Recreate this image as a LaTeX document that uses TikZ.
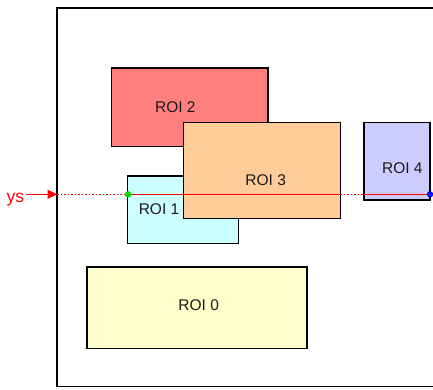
\documentclass[tikz,border=0pt]{standalone}
\usepackage{fontspec}
\setmainfont{Liberation Sans}
\usetikzlibrary{arrows.meta}
\definecolor{roiA}{HTML}{FFFFCC}
\definecolor{roiB}{HTML}{CCFFFF}
\definecolor{roiC}{HTML}{FF7F7F}
\definecolor{roiD}{HTML}{FFCC99}
\definecolor{roiE}{HTML}{CCCCFF}
\definecolor{txt}{HTML}{1A1A1A}
\tikzset{
  roibox/.style={draw=black, line width=1.4pt, inner sep=0pt, outer sep=0pt, anchor=north west},
  roitext/.style={text=txt, font=\fontsize{15.5}{17}\selectfont, inner sep=0pt},
  scanline/.style={red, line width=1.5pt},
  scandot/.style={red, line width=1.5pt, dotted},
}
\begin{document}
\begin{tikzpicture}[x=1pt,y=-1pt]
\useasboundingbox[fill=white] (0,0) rectangle (433,389);
% frame
\draw[line width=1.4pt] (445,8) -- (57,8) -- (57,386.5) -- (445,386.5);
\coordinate (fl) at (57,194.3);
% ROIs
\node[roibox, fill=roiA, minimum width=220pt, minimum height=81.7pt] (r0) at (87,267) {};
\node[roibox, fill=roiC, minimum width=156.3pt, minimum height=78.7pt] (r2) at (111.7,68) {};
\node[roibox, fill=roiB, minimum width=110.6pt, minimum height=67.7pt] (r1) at (127.7,176) {};
\node[roibox, fill=roiD, minimum width=156.6pt, minimum height=96pt] (r3) at (183.7,122.7) {};
\node[roibox, fill=roiE, minimum width=66pt, minimum height=77.3pt] (r4) at (364,122.7) {};
% labels
\node[roitext] (t0) at (198.7,305.5) {ROI 0};
\node[roitext] (t1) at (159,209) {ROI 1};
\node[roitext] (t2) at (175.3,107) {ROI 2};
\node[roitext] (t3) at (265.7,180.5) {ROI 3};
\node[roitext] (t4) at (402.3,167.8) {ROI 4};
% scan line
\coordinate (g) at (128,194.3);
\coordinate (a3) at (340.3,194.3);
\coordinate (b4) at (364,194.3);
\coordinate (b) at (430,194.3);
\draw[scandot] (fl) -- (g);
\draw[scanline] (g) -- (a3);
\draw[scandot] (a3) -- (b4);
\draw[scanline] (b4) -- (b);
\fill[green!85!black] (g) circle (3.2pt);
\fill[blue] (b) circle (3.2pt);
% ys arrow
\node[text=red, font=\fontsize{17.5}{19}\selectfont, inner sep=0pt, anchor=base west] (ys) at (6.5,202) {ys};
\coordinate (ysr) at (25.5,194.3);
\draw[red, line width=1.2pt, -{Triangle[length=9.5pt,width=9pt]}] (ysr) -- (fl);
\end{tikzpicture}
\end{document}
